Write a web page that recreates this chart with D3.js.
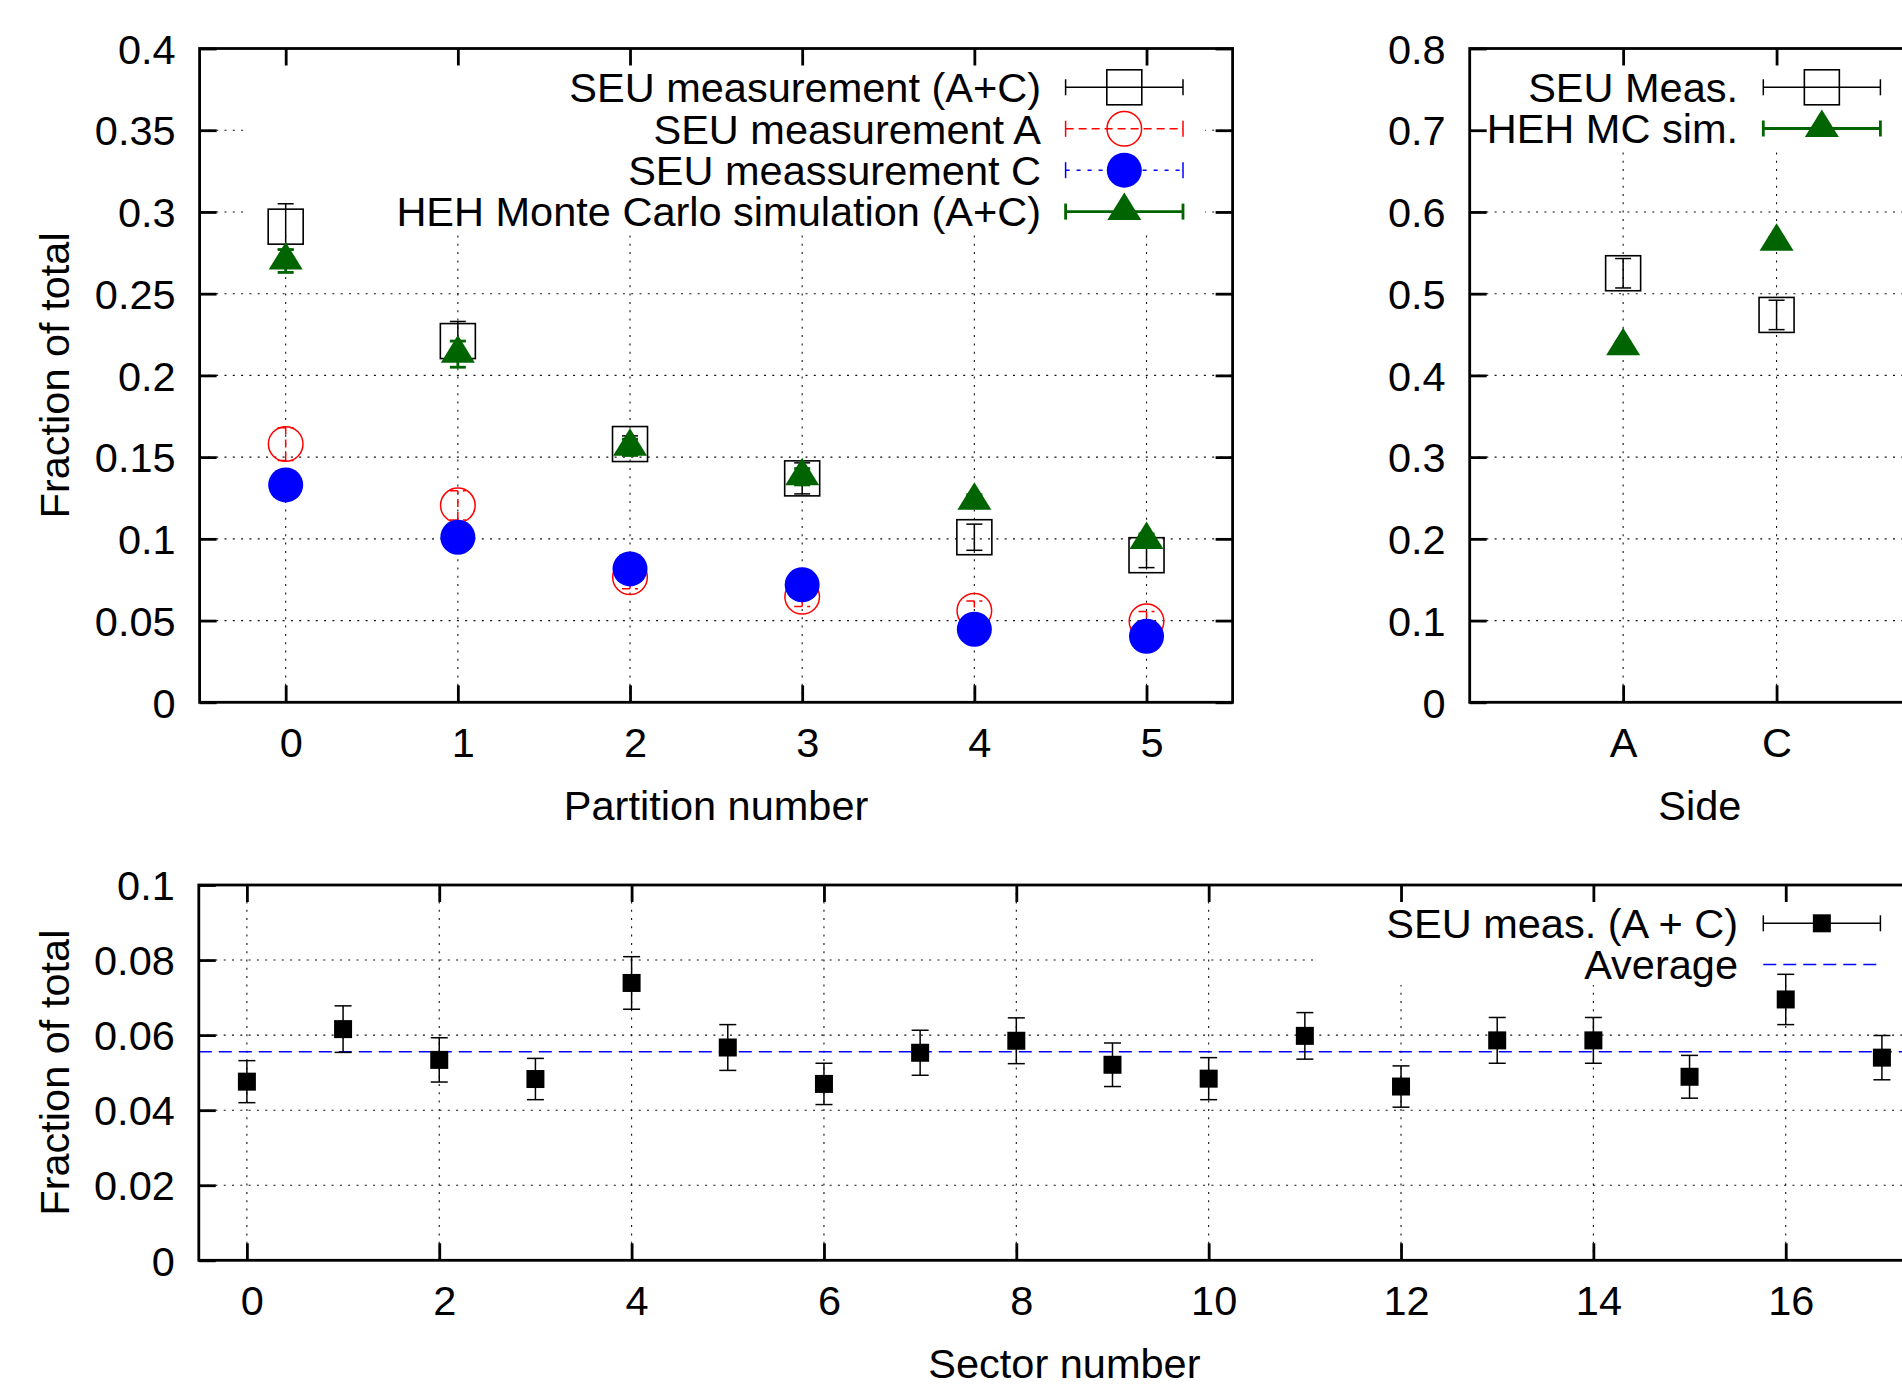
<!DOCTYPE html>
<html>
<head>
<meta charset="utf-8">
<script src="https://cdn.jsdelivr.net/npm/d3@7"></script>
<style>
  body { margin: 0; background: #fff; }
  svg { display: block; }
  text { font-family: "Liberation Sans", Arial, Helvetica, sans-serif; font-size: 41.5px; fill: #000; }
</style>
</head>
<body>
<svg id="chart" width="1902" height="1384"></svg>
<script>
// ---------------- data ----------------
const partitions = [0, 1, 2, 3, 4, 5];
const partitionTickLabels = ["0", "1", "2", "3", "4", "5"];
const seuAC = [0.291, 0.221, 0.158, 0.137, 0.101, 0.090];
const seuACErr = [0.014, 0.012, 0.005, 0.0095, 0.008, 0.0076];
const seuA = [0.158, 0.1205, 0.0765, 0.0646, 0.056, 0.0496];
const seuAErr = [0.010, 0.009, 0.007, 0.006, 0.006, 0.006];
const seuC = [0.133, 0.101, 0.0816, 0.0719, 0.0447, 0.0404];
const seuCErr = [0.008, 0.007, 0.006, 0.006, 0.005, 0.005];
const hehPart = [0.270, 0.213, 0.156, 0.138, 0.123, 0.099];
const hehPartErr = [0.007, 0.008, 0.005, 0.005, 0.004, 0.004];
const partYTicks = [0, 0.05, 0.1, 0.15, 0.2, 0.25, 0.3, 0.35, 0.4];
const partYTickLabels = ["0", "0.05", "0.1", "0.15", "0.2", "0.25", "0.3", "0.35", "0.4"];

const sides = ["A", "C"];
const seuSide = [0.525, 0.474];
const seuSideErr = [0.018, 0.018];
const hehSide = [0.435, 0.563];
const hehSideErr = [0.006, 0.006];
const sideYTicks = [0, 0.1, 0.2, 0.3, 0.4, 0.5, 0.6, 0.7, 0.8];
const sideYTickLabels = ["0", "0.1", "0.2", "0.3", "0.4", "0.5", "0.6", "0.7", "0.8"];

const sectors = [0, 1, 2, 3, 4, 5, 6, 7, 8, 9, 10, 11, 12, 13, 14, 15, 16, 17];
const seuSector = [0.0476, 0.0616, 0.0534, 0.0483, 0.0739, 0.0567, 0.0470, 0.0553, 0.0585,
                   0.0521, 0.0484, 0.0598, 0.0463, 0.0586, 0.0586, 0.0489, 0.0695, 0.0540];
const seuSectorErr = [0.0056, 0.0062, 0.0059, 0.0055, 0.0070, 0.0061, 0.0055, 0.0060, 0.0061,
                      0.0058, 0.0056, 0.0062, 0.0055, 0.0061, 0.0061, 0.0057, 0.0067, 0.0059];
const sectorAverage = 0.0556;
const sectorXTicks = [0, 2, 4, 6, 8, 10, 12, 14, 16];
const sectorXTickLabels = ["0", "2", "4", "6", "8", "10", "12", "14", "16"];
const sectorYTicks = [0, 0.02, 0.04, 0.06, 0.08, 0.1];
const sectorYTickLabels = ["0", "0.02", "0.04", "0.06", "0.08", "0.1"];

// ---------------- styles ----------------
const GREEN = "#006400", RED = "#ff0000", BLUE = "#0000ff";
const TICK = 17, AXW = 2.8;

const svg = d3.select("#chart");
svg.append("rect").attr("width", 1902).attr("height", 1384).attr("fill", "#fff");

function panel(cfg) {
  const { x, y, xTicks, xLabels, xNumeric, yTicks, yLabels, xTitle, keyBox } = cfg;
  const [x0, x1] = x.range();
  const [yb, yt] = y.range();
  const root = svg.append("g");
  const L = {
    grid: root.append("g"),
    keybg: root.append("g"),
    data: root.append("g"),
    axes: root.append("g"),
    key: root.append("g")
  };
  const gs = L.grid.attr("stroke", "#111").attr("stroke-width", 1.1).attr("stroke-dasharray", "2,6.3");
  gs.selectAll("line.gx").data(xTicks).join("line").attr("class", "gx")
    .attr("x1", d => x(d)).attr("x2", d => x(d)).attr("y1", yb).attr("y2", yt);
  gs.selectAll("line.gy").data(yTicks).join("line").attr("class", "gy")
    .attr("x1", x0).attr("x2", x1).attr("y1", d => y(d)).attr("y2", d => y(d));
  L.keybg.append("rect").attr("x", keyBox[0]).attr("y", keyBox[1])
    .attr("width", keyBox[2] - keyBox[0]).attr("height", keyBox[3] - keyBox[1]).attr("fill", "#fff");

  const style = g => {
    g.select(".domain").remove();
    g.selectAll("line").attr("stroke", "#000").attr("stroke-width", AXW);
  };
  const bx = L.axes.append("g").attr("transform", `translate(0,${yb})`)
    .call(d3.axisBottom(x).tickValues(xTicks).tickFormat((d, i) => xLabels[i]).tickSize(-TICK).tickPadding(0))
    .call(style);
  bx.selectAll("text").attr("y", 55).attr("dy", null).attr("dx", xNumeric ? 5 : 0);
  L.axes.append("g").attr("transform", `translate(0,${yt})`)
    .call(d3.axisTop(x).tickValues(xTicks).tickFormat(() => "").tickSize(-TICK)).call(style);
  const ly = L.axes.append("g").attr("transform", `translate(${x0},0)`)
    .call(d3.axisLeft(y).tickValues(yTicks).tickFormat((d, i) => yLabels[i]).tickSize(-TICK).tickPadding(24))
    .call(style);
  ly.selectAll("text").attr("dy", "0.355em");
  L.axes.append("g").attr("transform", `translate(${x1},0)`)
    .call(d3.axisRight(y).tickValues(yTicks).tickFormat(() => "").tickSize(-TICK)).call(style);
  L.axes.append("rect").attr("x", x0).attr("y", yt).attr("width", x1 - x0).attr("height", yb - yt)
    .attr("fill", "none").attr("stroke", "#000").attr("stroke-width", AXW);

  L.axes.append("text").attr("x", (x0 + x1) / 2).attr("y", yb + 118).attr("text-anchor", "middle").text(xTitle);
  if (cfg.yTitle) {
    L.axes.append("text").attr("transform", `translate(69,${(yb + yt) / 2}) rotate(-90)`)
      .attr("text-anchor", "middle").text(cfg.yTitle);
  }
  return L;
}

function errBars(g, xs, ys, es, x, y, opts) {
  const cw = opts.cap || 8;
  const gg = g.append("g").attr("stroke", opts.color).attr("stroke-width", opts.width || 1.5)
    .attr("stroke-dasharray", opts.dash || null).attr("fill", "none");
  const d = xs.map((v, i) => ({ x: x(v), lo: y(ys[i] - es[i]), hi: y(ys[i] + es[i]) }));
  gg.selectAll("line.v").data(d).join("line").attr("class", "v")
    .attr("x1", p => p.x).attr("x2", p => p.x).attr("y1", p => p.lo).attr("y2", p => p.hi);
  gg.selectAll("line.t").data(d).join("line").attr("class", "t")
    .attr("x1", p => p.x - cw).attr("x2", p => p.x + cw).attr("y1", p => p.hi).attr("y2", p => p.hi)
    .attr("stroke-dasharray", null);
  gg.selectAll("line.b").data(d).join("line").attr("class", "b")
    .attr("x1", p => p.x - cw).attr("x2", p => p.x + cw).attr("y1", p => p.lo).attr("y2", p => p.lo)
    .attr("stroke-dasharray", null);
}
function triPath(cx, cy, h) {
  return `M${cx},${cy - 1.12 * h}L${cx - h},${cy + 0.5 * h}L${cx + h},${cy + 0.5 * h}Z`;
}
function markers(g, xs, ys, x, y, kind) {
  const pts = xs.map((v, i) => [x(v), y(ys[i])]);
  if (kind === "openSquare") {
    g.selectAll(null).data(pts).join("rect").attr("x", p => p[0] - 17.5).attr("y", p => p[1] - 17.5)
      .attr("width", 35).attr("height", 35).attr("fill", "none").attr("stroke", "#000").attr("stroke-width", 1.6);
  } else if (kind === "openCircle") {
    g.selectAll(null).data(pts).join("circle").attr("cx", p => p[0]).attr("cy", p => p[1]).attr("r", 17.3)
      .attr("fill", "none").attr("stroke", RED).attr("stroke-width", 1.5);
  } else if (kind === "filledCircle") {
    g.selectAll(null).data(pts).join("circle").attr("cx", p => p[0]).attr("cy", p => p[1]).attr("r", 17.5)
      .attr("fill", BLUE);
  } else if (kind === "triangle") {
    g.selectAll(null).data(pts).join("path").attr("d", p => triPath(p[0], p[1], 17)).attr("fill", GREEN);
  } else if (kind === "filledSquare") {
    g.selectAll(null).data(pts).join("rect").attr("x", p => p[0] - 9).attr("y", p => p[1] - 9)
      .attr("width", 18).attr("height", 18).attr("fill", "#000");
  }
}
function keyEntry(g, label, rowY, textRight, sx0, sx1, opt) {
  g.append("text").attr("x", textRight).attr("y", rowY + 14.8).attr("text-anchor", "end").text(label);
  const s = g.append("g").attr("stroke", opt.color).attr("stroke-width", opt.width || 1.5);
  s.append("line").attr("x1", sx0).attr("x2", sx1).attr("y1", rowY).attr("y2", rowY)
    .attr("stroke-dasharray", opt.dash || null);
  if (opt.caps) {
    [sx0, sx1].forEach(cx => s.append("line").attr("x1", cx).attr("x2", cx).attr("y1", rowY - 8).attr("y2", rowY + 8));
  }
  if (opt.marker) {
    const mx = (sx0 + sx1) / 2;
    const tmpX = d3.scaleLinear().domain([0, 1]).range([mx, mx + 1]);
    const tmpY = d3.scaleLinear().domain([0, 1]).range([rowY, rowY - 1]);
    markers(g.append("g"), [0], [0], tmpX, tmpY, opt.marker);
  }
}

// ---------------- Panel 1: partitions ----------------
const x1s = d3.scaleLinear().domain([-0.5, 5.5]).range([199.6, 1232.6]);
const y1s = d3.scaleLinear().domain([0, 0.4]).range([702.3, 48.5]);
const P1 = panel({
  x: x1s, y: y1s, xTicks: partitions, xLabels: partitionTickLabels, xNumeric: true,
  yTicks: partYTicks, yLabels: partYTickLabels, xTitle: "Partition number", yTitle: "Fraction of total",
  keyBox: [245, 50, 1205, 232]
});
errBars(P1.data, partitions, seuAC, seuACErr, x1s, y1s, { color: "#000", width: 1.5 });
markers(P1.data.append("g"), partitions, seuAC, x1s, y1s, "openSquare");
errBars(P1.data, partitions, seuA, seuAErr, x1s, y1s, { color: RED, width: 1.5, dash: "8,5" });
markers(P1.data.append("g"), partitions, seuA, x1s, y1s, "openCircle");
errBars(P1.data, partitions, seuC, seuCErr, x1s, y1s, { color: BLUE, width: 1.5, dash: "4,7" });
markers(P1.data.append("g"), partitions, seuC, x1s, y1s, "filledCircle");
errBars(P1.data, partitions, hehPart, hehPartErr, x1s, y1s, { color: GREEN, width: 2.8 });
markers(P1.data.append("g"), partitions, hehPart, x1s, y1s, "triangle");

const k1 = [87.3, 128.8, 170.2, 211.6];
keyEntry(P1.key, "SEU measurement (A+C)", k1[0], 1041, 1065.6, 1183, { color: "#000", caps: true, marker: "openSquare" });
keyEntry(P1.key, "SEU measurement A", k1[1], 1041, 1065.6, 1183, { color: RED, dash: "8,5", caps: true, marker: "openCircle" });
keyEntry(P1.key, "SEU meassurement C", k1[2], 1041, 1065.6, 1183, { color: BLUE, dash: "4,7", caps: true, marker: "filledCircle" });
keyEntry(P1.key, "HEH Monte Carlo simulation (A+C)", k1[3], 1041, 1065.6, 1183, { color: GREEN, width: 2.8, caps: true, marker: "triangle" });

// ---------------- Panel 2: sides ----------------
const sideIdx = sides.map((s, i) => i);
const x2s = d3.scaleLinear().domain([-1, 2]).range([1469.7, 1930]);
const y2s = d3.scaleLinear().domain([0, 0.8]).range([702.3, 48.5]);
const P2 = panel({
  x: x2s, y: y2s, xTicks: sideIdx, xLabels: sides, xNumeric: false,
  yTicks: sideYTicks, yLabels: sideYTickLabels, xTitle: "Side",
  keyBox: [1472, 50, 1928, 151]
});
errBars(P2.data, sideIdx, seuSide, seuSideErr, x2s, y2s, { color: "#000", width: 1.5 });
markers(P2.data.append("g"), sideIdx, seuSide, x2s, y2s, "openSquare");
errBars(P2.data, sideIdx, hehSide, hehSideErr, x2s, y2s, { color: GREEN, width: 2.8 });
markers(P2.data.append("g"), sideIdx, hehSide, x2s, y2s, "triangle");
keyEntry(P2.key, "SEU Meas.", 87.3, 1738, 1763.3, 1880.4, { color: "#000", caps: true, marker: "openSquare" });
keyEntry(P2.key, "HEH MC sim.", 128.5, 1738, 1763.3, 1880.4, { color: GREEN, width: 2.8, caps: true, marker: "triangle" });

// ---------------- Panel 3: sectors ----------------
const x3s = d3.scaleLinear().domain([-0.5, 17.5]).range([198.8, 1930]);
const y3s = d3.scaleLinear().domain([0, 0.1]).range([1260.3, 885]);
const P3 = panel({
  x: x3s, y: y3s, xTicks: sectorXTicks, xLabels: sectorXTickLabels, xNumeric: true,
  yTicks: sectorYTicks, yLabels: sectorYTickLabels, xTitle: "Sector number", yTitle: "Fraction of total",
  keyBox: [1316, 886, 1928, 985]
});
P3.data.append("line").attr("x1", 198.8).attr("x2", 1930)
  .attr("y1", y3s(sectorAverage)).attr("y2", y3s(sectorAverage))
  .attr("stroke", BLUE).attr("stroke-width", 1.5).attr("stroke-dasharray", "13,7");
errBars(P3.data, sectors, seuSector, seuSectorErr, x3s, y3s, { color: "#000", width: 1.5, cap: 8.5 });
markers(P3.data.append("g"), sectors, seuSector, x3s, y3s, "filledSquare");
keyEntry(P3.key, "SEU meas. (A + C)", 923.3, 1738, 1763.3, 1880.4, { color: "#000", caps: true, marker: "filledSquare" });
keyEntry(P3.key, "Average", 964.4, 1738, 1763.3, 1880.4, { color: BLUE, dash: "13,7" });
</script>
</body>
</html>
